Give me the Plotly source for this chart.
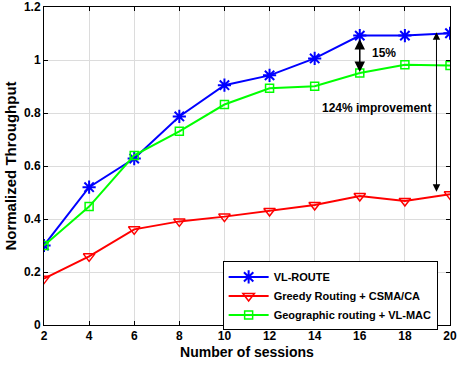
import plotly.graph_objects as go

sessions = [2, 4, 6, 8, 10, 12, 14, 16, 18, 20]
vl_route = [0.30, 0.52, 0.628, 0.787, 0.905, 0.942, 1.006, 1.092, 1.092, 1.101]
greedy_csma = [0.175, 0.259, 0.361, 0.391, 0.409, 0.430, 0.453, 0.487, 0.468, 0.493]
geo_vlmac = [0.30, 0.447, 0.64, 0.731, 0.832, 0.893, 0.901, 0.951, 0.982, 0.979]

font_main = "Liberation Sans, Arial, sans-serif"

fig = go.Figure()

fig.add_trace(go.Scatter(
    x=sessions, y=vl_route, name="VL-ROUTE", mode="lines+markers",
    line=dict(color="#0000ff", width=2),
    marker=dict(symbol="asterisk-open", size=11, color="#0000ff",
                line=dict(color="#0000ff", width=2))))
fig.add_trace(go.Scatter(
    x=sessions, y=greedy_csma, name="Greedy Routing + CSMA/CA", mode="lines+markers",
    line=dict(color="#ff0000", width=2),
    marker=dict(symbol="triangle-down-open", size=10, color="#ff0000",
                line=dict(color="#ff0000", width=1.5))))
fig.add_trace(go.Scatter(
    x=sessions, y=geo_vlmac, name="Geographic routing + VL-MAC", mode="lines+markers",
    line=dict(color="#00ff00", width=2),
    marker=dict(symbol="square-open", size=8, color="#00ff00",
                line=dict(color="#00ff00", width=1.5))))

# 15% double arrow
fig.add_annotation(x=16, y=0.955, ax=16, ay=1.085, xref="x", yref="y",
                   axref="x", ayref="y", text="", showarrow=True,
                   arrowhead=2, arrowside="end+start", arrowsize=1.4,
                   arrowwidth=1.5, arrowcolor="black")
fig.add_annotation(x=16.45, y=1.027, xref="x", yref="y", text="<b>15%</b>",
                   showarrow=False, xanchor="left",
                   font=dict(size=12, color="black", family=font_main))

# 124% improvement double arrow
fig.add_annotation(x=19.4, y=0.503, ax=19.4, ay=1.11, xref="x", yref="y",
                   axref="x", ayref="y", text="", showarrow=True,
                   arrowhead=2, arrowside="end+start", arrowsize=1.5,
                   arrowwidth=1, arrowcolor="black")
fig.add_annotation(x=16.75, y=0.82, xref="x", yref="y",
                   text="<b>124% improvement</b>", showarrow=False,
                   font=dict(size=12, color="black", family=font_main))

axis_common = dict(
    showline=True, linecolor="black", linewidth=1, mirror="ticks",
    ticks="inside", ticklen=4, tickcolor="black",
    showgrid=True, gridcolor="#dcdcdc", gridwidth=1, zeroline=False,
    automargin=False, ticklabeloverflow="allow",
    tickfont=dict(size=12, color="black", family=font_main, weight="bold"),
)

fig.update_xaxes(range=[2, 20], tickvals=sessions,
                 title=dict(text="Number of sessions", standoff=4,
                            font=dict(size=14, color="black", family=font_main, weight="bold")),
                 **axis_common)
fig.update_yaxes(range=[0, 1.2], tickvals=[0, 0.2, 0.4, 0.6, 0.8, 1, 1.2],
                 ticktext=["0", "0.2", "0.4", "0.6", "0.8", "1", "1.2"],
                 title=dict(text="Normalized Throughput", standoff=3,
                            font=dict(size=15, color="black", family=font_main, weight="bold")),
                 **axis_common)

fig.update_layout(
    width=457, height=367,
    margin=dict(l=44, r=7, t=7, b=42),
    plot_bgcolor="white", paper_bgcolor="white",
    legend=dict(x=0.44, y=0.2, xanchor="left", yanchor="top",
                bgcolor="white", bordercolor="black", borderwidth=1,
                font=dict(size=11, color="black", family=font_main, weight="bold"),
                tracegroupgap=0, itemwidth=40),
)

fig.write_html("out.html", config={"displayModeBar": False},
               post_script="document.body.style.margin='0';")
